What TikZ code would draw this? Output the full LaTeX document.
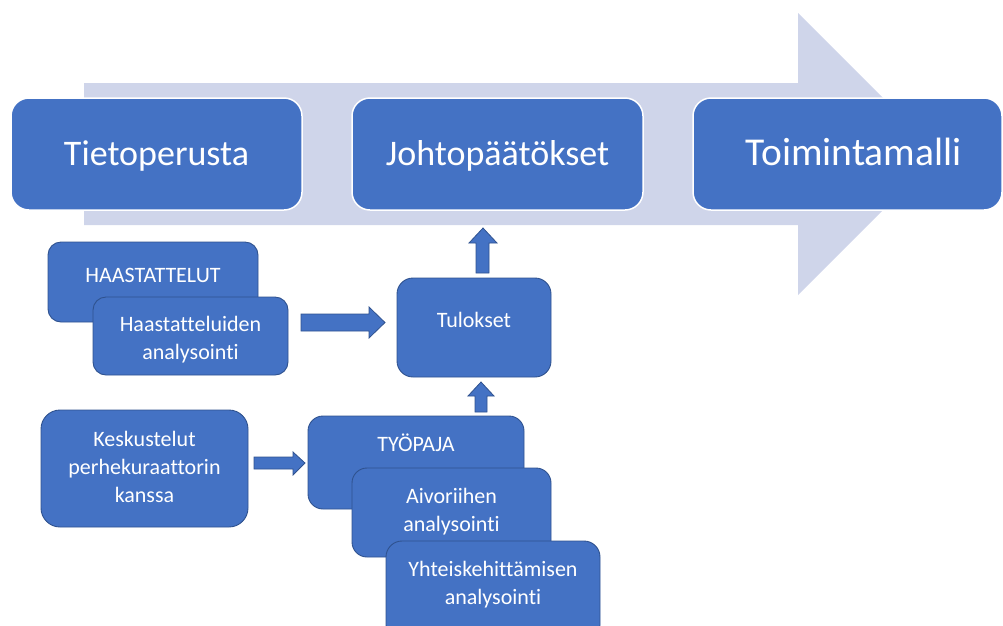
\documentclass[tikz,border=0pt]{standalone}
\usepackage{fontspec}
\setmainfont{Carlito}[Ligatures=NoCommon]
\definecolor{boxblue}{HTML}{4472C4}
\definecolor{edgeblue}{HTML}{2F528F}
\definecolor{bandblue}{HTML}{CFD5EA}
\begin{document}
\begin{tikzpicture}[x=1pt,y=-1pt,
  topbox/.style 2 args={draw=white, line width=1.5pt, fill=boxblue, rectangle,
    rounded corners=18pt, inner sep=0pt, outer sep=0pt, anchor=north west,
    minimum width=#1pt, minimum height=#2pt},
  subbox/.style n args={3}{draw=edgeblue, line width=0.9pt, fill=boxblue, rectangle,
    rounded corners=#3pt, inner sep=0pt, outer sep=0pt, anchor=north west,
    minimum width=#1pt, minimum height=#2pt},
  bigtxt/.style={text=white, font=\fontsize{36}{40}\selectfont, anchor=base, inner sep=0pt},
  smalltxt/.style={text=white, font=\fontsize{22}{28}\selectfont, anchor=base, inner sep=0pt, align=center},
  blockarrow/.style={draw=edgeblue, line width=0.8pt, fill=boxblue, line join=miter}
]
\useasboundingbox (0,0) rectangle (1003,625);
\clip (0,0) rectangle (1003,625);

% background process arrow
\fill[bandblue] (84,83) -- (798,83) -- (798,13) -- (939,154) -- (798,295) -- (798,225) -- (84,225) -- cycle;

% top row
\node[topbox={291}{112}] (tiet) at (11,98) {};
\node[topbox={291}{112}] (joht) at (352,98) {};
\node[topbox={309}{112}] (toim) at (693,98) {};
\node[bigtxt] (tiett) at ([yshift=-67pt]tiet.north) {Tietoperusta};
\node[bigtxt] (johtt) at ([yshift=-67pt]joht.north) {Johtopäätökset};
\node[bigtxt, font=\fontsize{39.5}{44}\selectfont] (toimt) at ([xshift=6pt,yshift=-67pt]toim.north) {Toimintamalli};

% interviews
\node[subbox={210}{80}{13}] (haas) at (48,242) {};
\node[smalltxt] (haast) at ([yshift=-40pt]haas.north) {HAASTATTELUT};
\node[subbox={195}{78}{13}] (haan) at (93,297) {};
\node[smalltxt] (haant) at ([yshift=-62pt]haan.north) {Haastatteluiden\\analysointi};

% results
\node[subbox={154}{99}{16}] (tul) at (397,278) {};
\node[smalltxt] (tult) at ([yshift=-49pt]tul.north) {Tulokset};

% discussions
\node[subbox={207}{117}{19}] (kesk) at (41,410) {};
\node[smalltxt] (keskt) at ([yshift=-92pt]kesk.north) {Keskustelut\\perhekuraattorin\\kanssa};

% workshop
\node[subbox={216}{93}{15}] (tyo) at (308,416) {};
\node[smalltxt] (tyot) at ([yshift=-35pt]tyo.north) {TYÖPAJA};
\node[subbox={199}{89}{15}] (aivo) at (352,468) {};
\node[smalltxt] (aivot) at ([yshift=-63pt]aivo.north) {Aivoriihen\\analysointi};
\node[subbox={214}{100}{16}] (yht) at (386,541) {};
\node[smalltxt] (yhtt) at ([yshift=-63pt]yht.north) {Yhteiskehittämisen\\analysointi};

% block arrows
\draw[blockarrow] (301,314) -- (369,314) -- (369,307) -- (385,322.5) -- (369,338) -- (369,331) -- (301,331) -- cycle;
\draw[blockarrow] (254,457) -- (293,457) -- (293,452) -- (305,463) -- (293,475) -- (293,469) -- (254,469) -- cycle;
\draw[blockarrow] (476,273) -- (476,243) -- (469,243) -- (483,228) -- (497,243) -- (489,243) -- (489,273) -- cycle;
\draw[blockarrow] (475,412) -- (475,396) -- (468,396) -- (481,382) -- (494,396) -- (487,396) -- (487,412) -- cycle;
\end{tikzpicture}
\end{document}
